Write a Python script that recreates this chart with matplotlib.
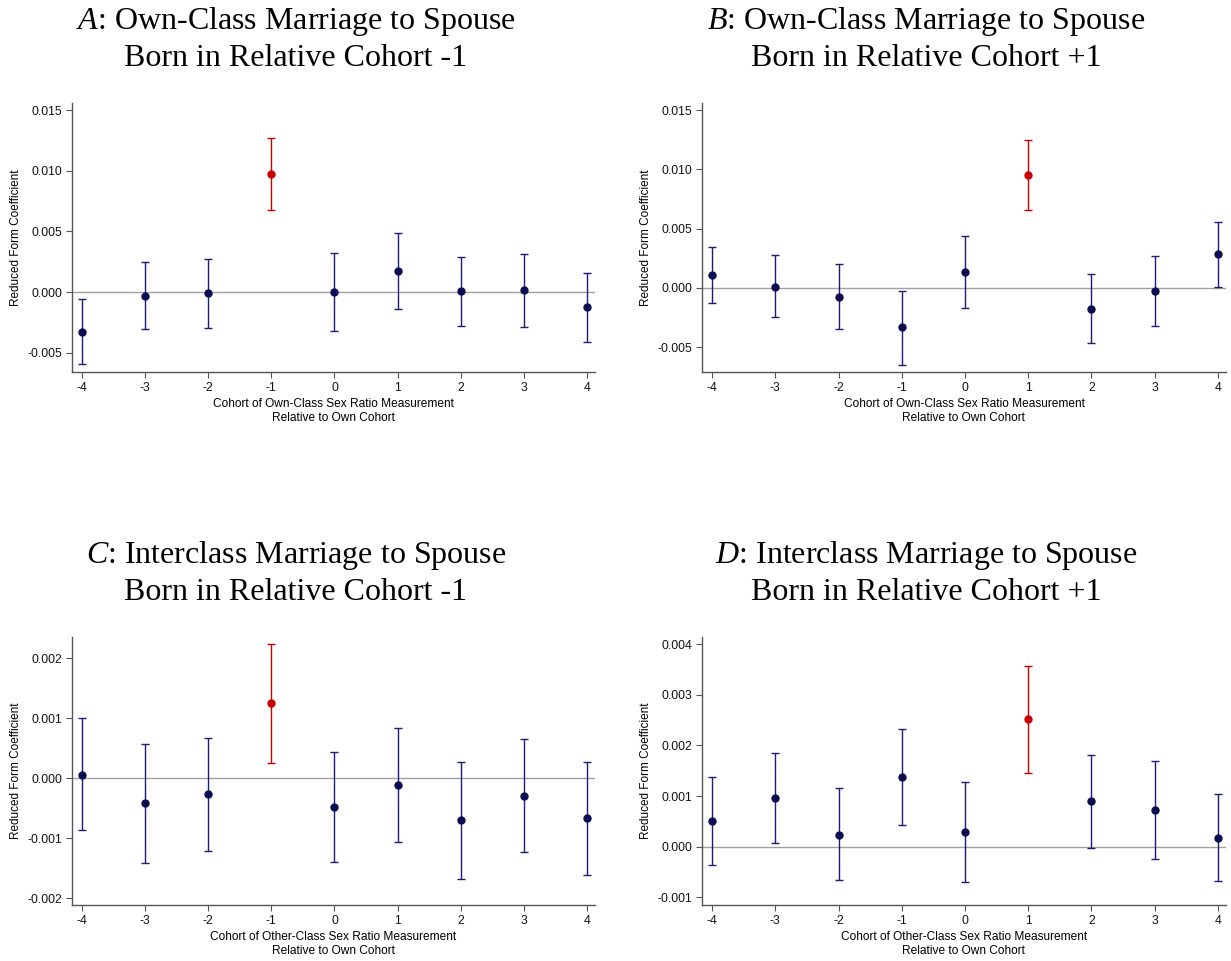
import numpy as np
import matplotlib
matplotlib.use("Agg")
import matplotlib.pyplot as plt
from matplotlib.ticker import FormatStrFormatter

plt.rcParams['font.family'] = ['Liberation Sans', 'DejaVu Sans']
plt.rcParams['axes.unicode_minus'] = False
plt.rcParams['mathtext.fontset'] = 'custom'
plt.rcParams['mathtext.rm'] = 'Liberation Serif'
plt.rcParams['mathtext.it'] = 'Liberation Serif:italic'

cohorts = [-4, -3, -2, -1, 0, 1, 2, 3, 4]

# Panel A: own-class, spouse in relative cohort -1
coef_a = [-0.00326, -0.00030, -0.00008, 0.00970, 0.00000, 0.00171, 0.00006, 0.00014, -0.00124]
lo_a = [-0.00594, -0.00309, -0.00293, 0.00674, -0.00318, -0.00144, -0.00279, -0.00290, -0.00409]
hi_a = [-0.00061, 0.00249, 0.00273, 0.01268, 0.00318, 0.00489, 0.00293, 0.00315, 0.00160]

# Panel B: own-class, spouse in relative cohort +1
coef_b = [0.00110, 0.00011, -0.00074, -0.00334, 0.00136, 0.00952, -0.00178, -0.00025, 0.00283]
lo_b = [-0.00127, -0.00249, -0.00346, -0.00649, -0.00167, 0.00660, -0.00467, -0.00320, 0.00011]
hi_b = [0.00348, 0.00275, 0.00198, -0.00023, 0.00439, 0.01244, 0.00113, 0.00269, 0.00555]

# Panel C: interclass, spouse in relative cohort -1
coef_c = [0.00006, -0.00042, -0.00027, 0.00125, -0.00048, -0.00011, -0.00070, -0.00029, -0.00067]
lo_c = [-0.00087, -0.00141, -0.00121, 0.00026, -0.00140, -0.00106, -0.00167, -0.00122, -0.00161]
hi_c = [0.00100, 0.00057, 0.00067, 0.00224, 0.00044, 0.00083, 0.00027, 0.00065, 0.00027]

# Panel D: interclass, spouse in relative cohort +1
coef_d = [0.00050, 0.00096, 0.00024, 0.00137, 0.00030, 0.00252, 0.00090, 0.00072, 0.00018]
lo_d = [-0.00036, 0.00007, -0.00066, 0.00043, -0.00069, 0.00146, -0.00003, -0.00025, -0.00068]
hi_d = [0.00138, 0.00185, 0.00115, 0.00233, 0.00128, 0.00357, 0.00182, 0.00170, 0.00105]

navy = '#1b1b78'
dot_navy = '#0c0c52'
red = '#cc0000'

W, H = 1231, 961


def px_axes(fig, left, top, right, bottom):
    return fig.add_axes([left / W, 1 - bottom / H, (right - left) / W, (bottom - top) / H])


def draw_panel(ax, coef, lo, hi, red_idx, ylim, yticks, xlabel):
    coef = np.array(coef)
    lo = np.array(lo)
    hi = np.array(hi)
    x = np.array(cohorts)
    ax.axhline(0, color='#a0a0a0', lw=1.0, zorder=1)
    for i in range(len(x)):
        c = red if i == red_idx else navy
        mc = red if i == red_idx else dot_navy
        ax.errorbar(x[i], coef[i], yerr=[[coef[i] - lo[i]], [hi[i] - coef[i]]],
                    fmt='o', color=mc, ecolor=c, elinewidth=1.0, capsize=3,
                    capthick=1.0, markersize=5, zorder=3)
    ax.set_xlim(-4.16, 4.13)
    ax.set_ylim(*ylim)
    ax.set_xticks(cohorts)
    ax.set_yticks(yticks)
    ax.yaxis.set_major_formatter(FormatStrFormatter('%.3f'))
    ax.spines['top'].set_visible(False)
    ax.spines['right'].set_visible(False)
    for s in ['left', 'bottom']:
        ax.spines[s].set_color('#555555')
        ax.spines[s].set_linewidth(1.0)
    ax.tick_params(labelsize=8.7, length=4.5, width=0.8, color='#555555',
                   labelcolor='#111111', pad=2.5)
    ax.set_ylabel('Reduced Form Coefficient', fontsize=8.5, labelpad=4)
    ax.set_xlabel(xlabel, fontsize=8.6, linespacing=1.2, labelpad=3)


fig = plt.figure(figsize=(W / 100, H / 100), dpi=100)

ax_a = px_axes(fig, 72, 103, 595, 372)
ax_b = px_axes(fig, 702, 103, 1226, 372)
ax_c = px_axes(fig, 72, 637, 595, 905)
ax_d = px_axes(fig, 702, 637, 1226, 905)

own_lab = 'Cohort of Own-Class Sex Ratio Measurement\nRelative to Own Cohort'
other_lab = 'Cohort of Other-Class Sex Ratio Measurement\nRelative to Own Cohort'

draw_panel(ax_a, coef_a, lo_a, hi_a, 3, (-0.0066, 0.0156),
           [-0.005, 0.0, 0.005, 0.010, 0.015], own_lab)
draw_panel(ax_b, coef_b, lo_b, hi_b, 5, (-0.0071, 0.0156),
           [-0.005, 0.0, 0.005, 0.010, 0.015], own_lab)
draw_panel(ax_c, coef_c, lo_c, hi_c, 3, (-0.00211, 0.00235),
           [-0.002, -0.001, 0.0, 0.001, 0.002], other_lab)
draw_panel(ax_d, coef_d, lo_d, hi_d, 5, (-0.00115, 0.00414),
           [-0.001, 0.0, 0.001, 0.002, 0.003, 0.004], other_lab)

titles = [
    (296, 21, r'$\mathit{A}$: Own-Class Marriage to Spouse'),
    (296, 59, 'Born in Relative Cohort -1'),
    (926, 21, r'$\mathit{B}$: Own-Class Marriage to Spouse'),
    (926, 59, 'Born in Relative Cohort +1'),
    (296, 555, r'$\mathit{C}$: Interclass Marriage to Spouse'),
    (296, 593, 'Born in Relative Cohort -1'),
    (926, 555, r'$\mathit{D}$: Interclass Marriage to Spouse'),
    (926, 593, 'Born in Relative Cohort +1'),
]
for tx, ty, s in titles:
    fig.text(tx / W, 1 - ty / H, s, ha='center', va='center',
             family='Liberation Serif', fontsize=23)

fig.savefig('out.png', dpi=100, facecolor='white')
